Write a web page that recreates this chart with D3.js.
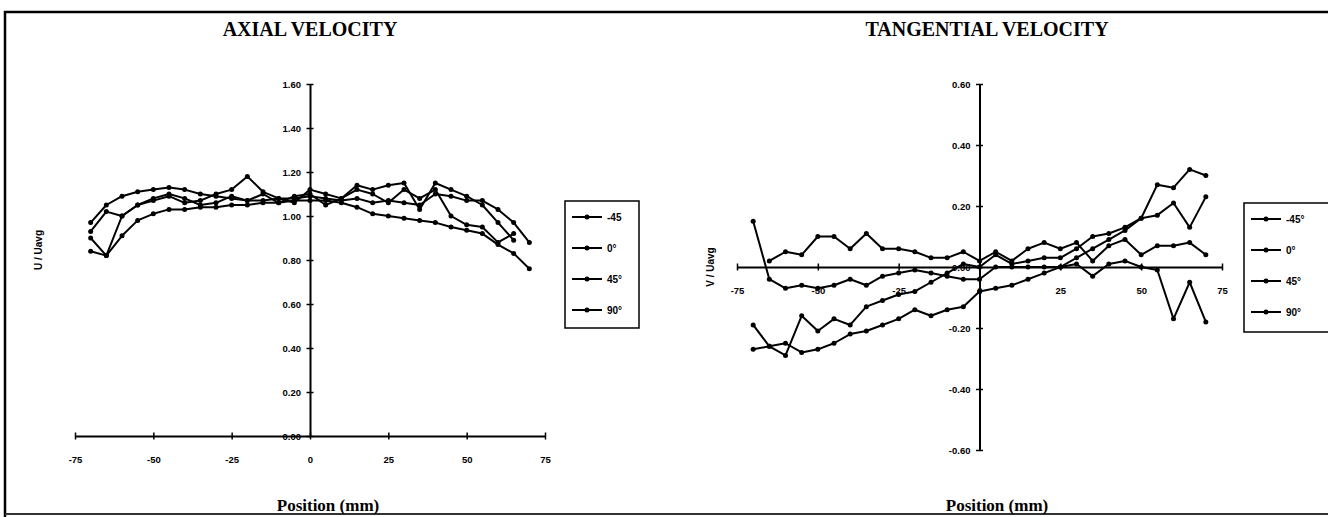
<!DOCTYPE html>
<html>
<head>
<meta charset="utf-8">
<script src="https://cdn.jsdelivr.net/npm/d3@7"></script>
<style>
body{margin:0;background:#fff;}
.title{font-family:"Liberation Serif",serif;font-weight:bold;font-size:20px;}
.xlabel{font-family:"Liberation Serif",serif;font-weight:bold;font-size:17px;}
.ylabel{font-family:"Liberation Sans",Arial,sans-serif;font-weight:bold;font-size:10px;}
.tick text{font-family:"Liberation Sans",Arial,sans-serif;font-weight:bold;font-size:9.5px;}
.leg{font-family:"Liberation Sans",Arial,sans-serif;font-weight:bold;font-size:10px;}
</style>
</head>
<body>
<div id="chart"></div>
<script>
// positions (mm)
let positions=[-70,-65,-60,-55,-50,-45,-40,-35,-30,-25,-20,-15,-10,-5,0,5,10,15,20,25,30,35,40,45,50,55,60,65,70];

// axial velocity U/Uavg
let axialNeg45=[0.97,1.05,1.09,1.11,1.12,1.13,1.12,1.10,1.09,1.08,1.07,1.07,1.08,1.08,1.09,1.08,1.07,1.08,1.06,1.07,1.06,1.05,1.10,1.09,1.07,1.07,1.03,0.97,0.88];
let axial0=[0.84,0.82,0.91,0.98,1.01,1.03,1.03,1.04,1.04,1.05,1.05,1.06,1.06,1.07,1.07,1.07,1.06,1.04,1.01,1.00,0.99,0.98,0.97,0.95,0.935,0.92,0.87,0.83,0.76];
let axial45=[0.90,0.82,1.00,1.05,1.07,1.09,1.06,1.07,1.10,1.12,1.18,1.11,1.08,1.06,1.12,1.10,1.08,1.14,1.12,1.14,1.15,1.03,1.15,1.12,1.09,1.05,0.97,0.89,null];
let axial90=[0.93,1.02,1.00,1.05,1.08,1.10,1.08,1.05,1.06,1.09,1.07,1.10,1.06,1.09,1.10,1.05,1.08,1.12,1.10,1.06,1.12,1.08,1.12,1.00,0.96,0.95,0.88,0.92,null];

// tangential velocity V/Uavg
let tangNeg45=[0.15,-0.04,-0.07,-0.06,-0.07,-0.06,-0.04,-0.06,-0.03,-0.02,-0.01,-0.02,-0.03,-0.04,-0.04,0.00,0.00,0.00,0.00,0.00,0.01,-0.03,0.01,0.02,0.00,-0.01,-0.17,-0.05,-0.18];
let tang0=[null,0.02,0.05,0.04,0.10,0.10,0.06,0.11,0.06,0.06,0.05,0.03,0.03,0.05,0.02,0.05,0.02,0.06,0.08,0.06,0.08,0.02,0.07,0.09,0.04,0.07,0.07,0.08,0.04];
let tang45=[-0.19,-0.26,-0.29,-0.16,-0.21,-0.17,-0.19,-0.13,-0.11,-0.09,-0.08,-0.05,-0.02,0.01,0.00,0.04,0.01,0.02,0.03,0.03,0.06,0.10,0.11,0.13,0.16,0.27,0.26,0.32,0.30];
let tang90=[-0.27,-0.26,-0.25,-0.28,-0.27,-0.25,-0.22,-0.21,-0.19,-0.17,-0.14,-0.16,-0.14,-0.13,-0.08,-0.07,-0.06,-0.04,-0.02,0.00,0.03,0.06,0.09,0.12,0.16,0.17,0.21,0.13,0.23];

let xTicks=[-75,-50,-25,0,25,50,75];
let axialTicks=[0,0.2,0.4,0.6,0.8,1.0,1.2,1.4,1.6];
let tangTicks=[-0.6,-0.4,-0.2,0,0.2,0.4,0.6];
let axialLegend=["-45","0°","45°","90°"];
let tangLegend=["-45°","0°","45°","90°"];

let width=1328, height=517;

let svg=d3.select("#chart").append("svg")
  .attr("width",width).attr("height",height);

// outer frame
svg.append("path")
  .attr("d","M5,"+height+" L5,12 L"+width+",12")
  .attr("fill","none").attr("stroke","#000").attr("stroke-width",2.5);
svg.append("line").attr("x1",5).attr("x2",width).attr("y1",514).attr("y2",514)
  .attr("stroke","#333").attr("stroke-width",2);

// plain hyphen instead of the unicode minus
let fmtX=d=>String(d);
let fmtY=d=>d.toFixed(2);

function drawChart(opt){
  let x=d3.scaleLinear().domain([-75,75]).range(opt.xRange);
  let y=d3.scaleLinear().domain(opt.yDomain).range(opt.yRange);
  let g=svg.append("g");

  g.append("text").attr("class","title").attr("x",opt.titleX).attr("y",36)
    .attr("text-anchor","middle").text(opt.title);

  // x axis at y=0
  let xAxis=d3.axisBottom(x).tickValues(xTicks).tickSizeInner(3).tickSizeOuter(0)
    .tickPadding(opt.xPad).tickFormat(fmtX);
  g.append("g").attr("transform","translate(0,"+y(0)+")").call(xAxis)
    .call(a=>a.selectAll(".tick line").attr("y1",-3.5).attr("y2",3.5).attr("stroke-width",1.5))
    .call(a=>a.select(".domain").attr("stroke-width",2));

  // y axis at x=0
  let yAxis=d3.axisLeft(y).tickValues(opt.yTicks).tickSizeInner(3).tickSizeOuter(0)
    .tickPadding(6).tickFormat(fmtY);
  g.append("g").attr("transform","translate("+x(0)+",0)").call(yAxis)
    .call(a=>a.selectAll(".tick line").attr("x1",-3.5).attr("x2",3.5).attr("stroke-width",1.5))
    .call(a=>a.select(".domain").attr("stroke-width",2));
  g.selectAll(".tick text").attr("fill","#000");

  // lines
  let line=d3.line().defined(d=>d[1]!==null).x(d=>x(d[0])).y(d=>y(d[1]));
  opt.series.forEach(function(s){
    let pts=positions.map((p,i)=>[p,s[i]]);
    g.append("path").datum(pts).attr("d",line)
      .attr("fill","none").attr("stroke","#000").attr("stroke-width",2)
      .attr("stroke-linejoin","round");
    g.selectAll(null).data(pts.filter(d=>d[1]!==null)).enter().append("circle")
      .attr("cx",d=>x(d[0])).attr("cy",d=>y(d[1])).attr("r",2.5).attr("fill","#000");
  });

  // axis titles
  g.append("text").attr("class","xlabel").attr("x",opt.xLabelX).attr("y",511)
    .attr("text-anchor","middle").text("Position (mm)");
  g.append("text").attr("class","ylabel")
    .attr("transform","translate("+opt.yLabelX+","+opt.yLabelY+") rotate(-90)")
    .attr("text-anchor","middle").text(opt.yLabel);

  // legend
  let lg=g.append("g").attr("transform","translate("+opt.legX+","+opt.legY+")");
  lg.append("rect").attr("x",0).attr("y",0).attr("width",opt.legW).attr("height",opt.legH)
    .attr("fill","#fff").attr("stroke","#000").attr("stroke-width",1.5);
  opt.legend.forEach(function(name,i){
    let ly=16+i*31;
    lg.append("line").attr("x1",7).attr("x2",37).attr("y1",ly).attr("y2",ly)
      .attr("stroke","#000").attr("stroke-width",2);
    lg.append("circle").attr("cx",22).attr("cy",ly).attr("r",2.5).attr("fill","#000");
    lg.append("text").attr("class","leg").attr("x",42).attr("y",ly+3.5).text(name);
  });
}

drawChart({
  title:"AXIAL VELOCITY", titleX:310,
  xRange:[75,545], yDomain:[0,1.6], yRange:[436,84], yTicks:axialTicks,
  xPad:17,
  series:[axialNeg45,axial0,axial45,axial90],
  xLabelX:328, yLabel:"U / Uavg", yLabelX:42, yLabelY:250,
  legend:axialLegend, legX:565, legY:201, legW:74, legH:127
});

drawChart({
  title:"TANGENTIAL VELOCITY", titleX:987,
  xRange:[737,1222], yDomain:[-0.6,0.6], yRange:[450,84], yTicks:tangTicks,
  xPad:17,
  series:[tangNeg45,tang0,tang45,tang90],
  xLabelX:997, yLabel:"V / Uavg", yLabelX:714, yLabelY:267,
  legend:tangLegend, legX:1244, legY:203, legW:100, legH:129
});
</script>
</body>
</html>
